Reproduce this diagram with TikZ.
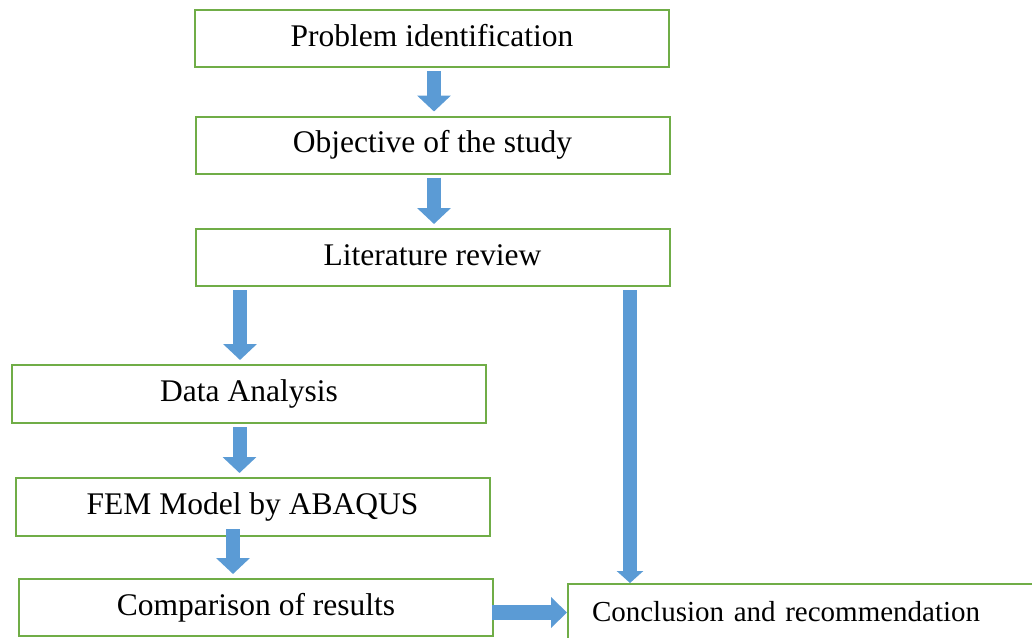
\documentclass[tikz,border=0pt]{standalone}
\usepackage{fontspec}
\setmainfont{Liberation Serif}
\usepackage{tikz}
\usetikzlibrary{arrows.meta}
\definecolor{boxgreen}{HTML}{70AD47}
\definecolor{arrowblue}{HTML}{5B9BD5}

\begin{document}
\begin{tikzpicture}[x=0.5pt,y=-0.5pt]
\tikzstyle{gbox}=[rectangle,draw=boxgreen,line width=1pt,minimum width=237pt,minimum height=28.5pt,inner sep=0pt,text height=11pt,text depth=3.2pt,font=\fontsize{15.75}{18}\selectfont]
\tikzstyle{barrow}=[draw=arrowblue,line width=7pt,-{Triangle[width=16.5pt,length=8pt]},shorten <=1.5pt,shorten >=2pt]
\useasboundingbox (0,0) rectangle (1032,637);
\clip (0,0) rectangle (1032,637);
\node[gbox] (prob) at (432,38.5) {Problem identification};
\node[gbox] (obj) at (432.5,145) {Objective of the study};
\node[gbox] (lit) at (432.5,257.5) {Literature review};
\node[gbox,minimum height=29pt] (data) at (249,394) {Data Analysis};
\node[gbox,minimum height=29pt] (fem) at (252.5,507) {FEM Model by ABAQUS};
\node[gbox] (comp) at (256,607.5) {Comparison of results};
\node[gbox,minimum width=236pt,minimum height=30.5pt,text width=212pt,align=left,inner xsep=12pt,text height=10.2pt,text depth=2.9pt,font=\fontsize{14.5}{17}\selectfont] (conc) at (804,614.5) {Conclusion and recommendation};
\draw[barrow] ([xshift=1pt]prob.south) -- ([xshift=0.75pt]obj.north);
\draw[barrow] ([xshift=0.75pt]obj.south) -- ([xshift=0.75pt]lit.north);
\draw[barrow] ([xshift=-96.25pt]lit.south) -- ([xshift=-4.5pt]data.north);
\draw[barrow] ([xshift=-4.75pt]data.south) -- ([xshift=-6.5pt]fem.north);
\draw[barrow,shorten <=-4pt] ([xshift=-9.75pt]fem.south) -- ([xshift=-11.5pt]comp.north);
\draw[barrow,-{Triangle[width=13pt,length=6pt]},shorten >=0pt] ([xshift=98.75pt]lit.south) -- ([xshift=-87pt]conc.north);
\draw[barrow,line width=7.5pt,-{Triangle[width=15pt,length=8pt]},shorten <=-1pt,shorten >=0pt] ([yshift=1pt]comp.east |- conc.west) -- ([yshift=1pt]conc.west);
\end{tikzpicture}
\end{document}
